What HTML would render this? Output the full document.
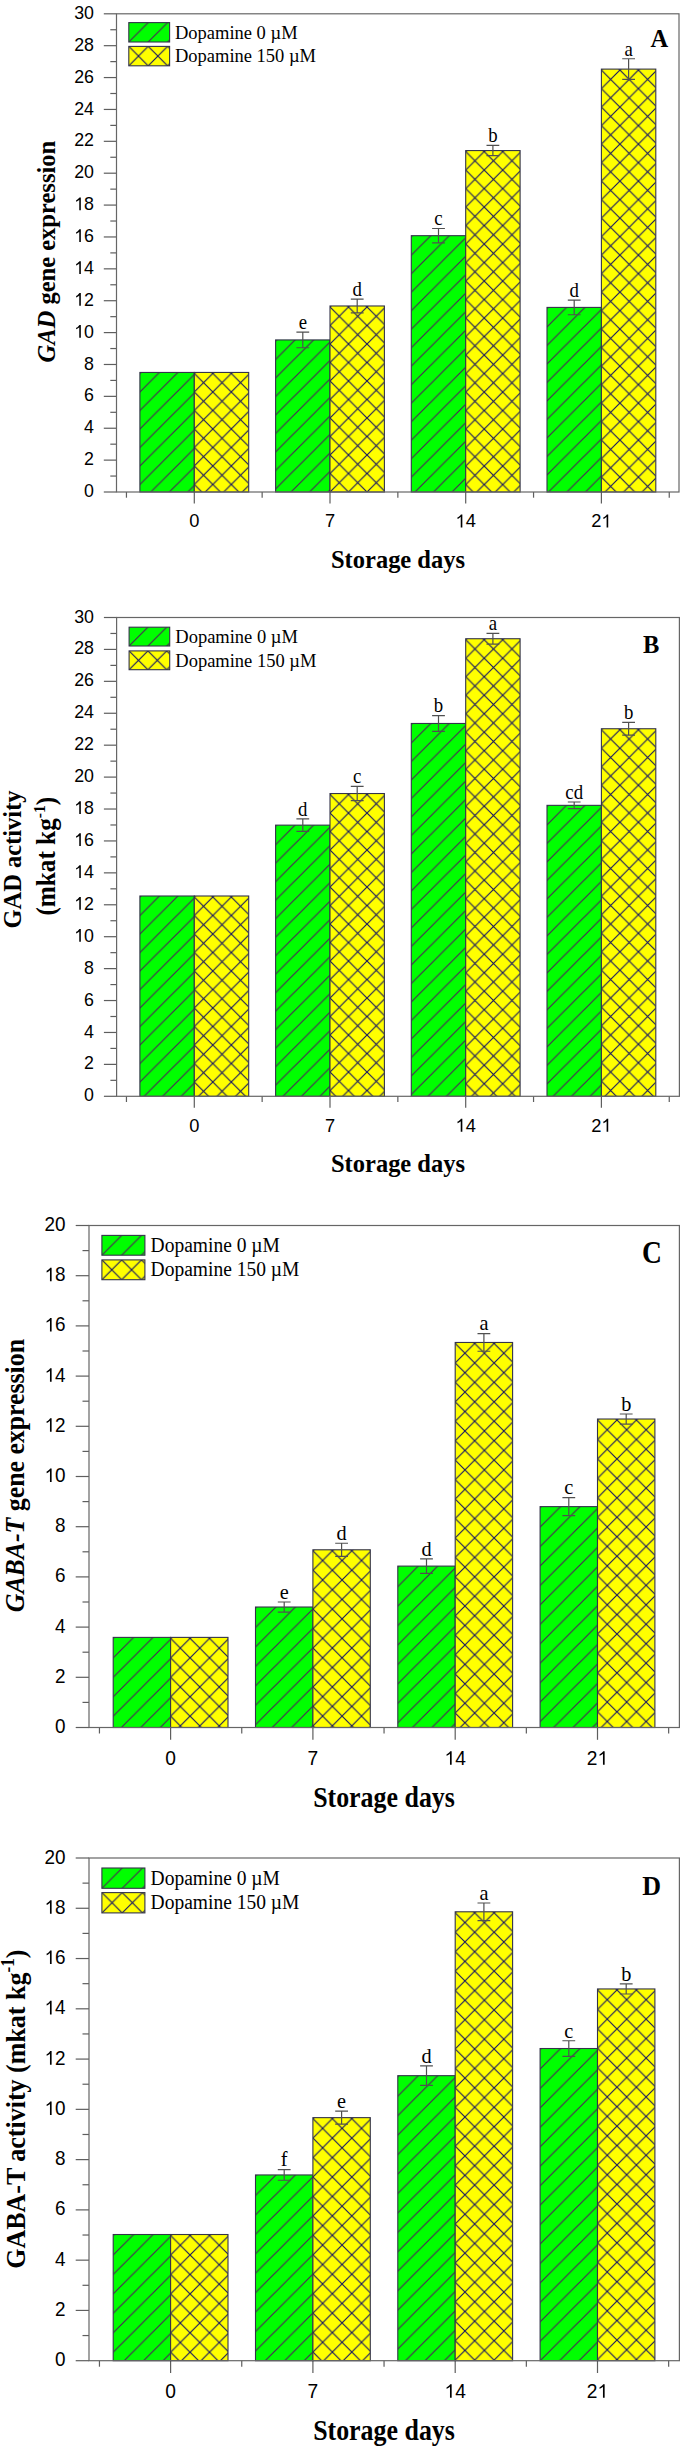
<!DOCTYPE html>
<html><head><meta charset="utf-8"><title>Figure</title>
<style>html,body{margin:0;padding:0;background:#fff;}body{width:685px;height:2450px;overflow:hidden;}svg{display:block;}</style>
</head><body>
<svg width="685" height="2450" viewBox="0 0 685 2450"><defs><pattern id="p1" patternUnits="userSpaceOnUse" width="18.5" height="18.5" x="139.9" y="373.45"><rect width="18.5" height="18.5" fill="#00ff00"/><path d="M-1,19.5 L19.5,-1 M-1,1 L1,-1 M17.5,19.5 L19.5,17.5" stroke="#4c2258" stroke-width="1.15" fill="none"/></pattern><pattern id="p2" patternUnits="userSpaceOnUse" width="18.5" height="18.5" x="194.3" y="373.45"><rect width="18.5" height="18.5" fill="#ffff00"/><path d="M-1,19.5 L19.5,-1 M-1,1 L1,-1 M17.5,19.5 L19.5,17.5 M-1,-1 L19.5,19.5 M-1,17.5 L1,19.5 M17.5,-1 L19.5,1" stroke="#161662" stroke-width="1.15" fill="none"/></pattern><pattern id="p3" patternUnits="userSpaceOnUse" width="18.5" height="18.5" x="275.6" y="340.93"><rect width="18.5" height="18.5" fill="#00ff00"/><path d="M-1,19.5 L19.5,-1 M-1,1 L1,-1 M17.5,19.5 L19.5,17.5" stroke="#4c2258" stroke-width="1.15" fill="none"/></pattern><pattern id="p4" patternUnits="userSpaceOnUse" width="18.5" height="18.5" x="330" y="306.98"><rect width="18.5" height="18.5" fill="#ffff00"/><path d="M-1,19.5 L19.5,-1 M-1,1 L1,-1 M17.5,19.5 L19.5,17.5 M-1,-1 L19.5,19.5 M-1,17.5 L1,19.5 M17.5,-1 L19.5,1" stroke="#161662" stroke-width="1.15" fill="none"/></pattern><pattern id="p5" patternUnits="userSpaceOnUse" width="18.5" height="18.5" x="411.3" y="236.68"><rect width="18.5" height="18.5" fill="#00ff00"/><path d="M-1,19.5 L19.5,-1 M-1,1 L1,-1 M17.5,19.5 L19.5,17.5" stroke="#4c2258" stroke-width="1.15" fill="none"/></pattern><pattern id="p6" patternUnits="userSpaceOnUse" width="18.5" height="18.5" x="465.7" y="151.57"><rect width="18.5" height="18.5" fill="#ffff00"/><path d="M-1,19.5 L19.5,-1 M-1,1 L1,-1 M17.5,19.5 L19.5,17.5 M-1,-1 L19.5,19.5 M-1,17.5 L1,19.5 M17.5,-1 L19.5,1" stroke="#161662" stroke-width="1.15" fill="none"/></pattern><pattern id="p7" patternUnits="userSpaceOnUse" width="18.5" height="18.5" x="547" y="308.41"><rect width="18.5" height="18.5" fill="#00ff00"/><path d="M-1,19.5 L19.5,-1 M-1,1 L1,-1 M17.5,19.5 L19.5,17.5" stroke="#4c2258" stroke-width="1.15" fill="none"/></pattern><pattern id="p8" patternUnits="userSpaceOnUse" width="18.5" height="18.5" x="601.4" y="70.11"><rect width="18.5" height="18.5" fill="#ffff00"/><path d="M-1,19.5 L19.5,-1 M-1,1 L1,-1 M17.5,19.5 L19.5,17.5 M-1,-1 L19.5,19.5 M-1,17.5 L1,19.5 M17.5,-1 L19.5,1" stroke="#161662" stroke-width="1.15" fill="none"/></pattern><pattern id="p9" patternUnits="userSpaceOnUse" width="19.4" height="19.4" x="128.8" y="22.6"><rect width="19.4" height="19.4" fill="#00ff00"/><path d="M-1,20.4 L20.4,-1 M-1,1 L1,-1 M18.4,20.4 L20.4,18.4" stroke="#4c2258" stroke-width="1.15" fill="none"/></pattern><pattern id="p10" patternUnits="userSpaceOnUse" width="19.4" height="19.4" x="128.8" y="46.4"><rect width="19.4" height="19.4" fill="#ffff00"/><path d="M-1,20.4 L20.4,-1 M-1,1 L1,-1 M18.4,20.4 L20.4,18.4 M-1,-1 L20.4,20.4 M-1,18.4 L1,20.4 M18.4,-1 L20.4,1" stroke="#161662" stroke-width="1.15" fill="none"/></pattern><pattern id="p11" patternUnits="userSpaceOnUse" width="18.5" height="18.5" x="139.9" y="897"><rect width="18.5" height="18.5" fill="#00ff00"/><path d="M-1,19.5 L19.5,-1 M-1,1 L1,-1 M17.5,19.5 L19.5,17.5" stroke="#4c2258" stroke-width="1.15" fill="none"/></pattern><pattern id="p12" patternUnits="userSpaceOnUse" width="18.5" height="18.5" x="194.3" y="897"><rect width="18.5" height="18.5" fill="#ffff00"/><path d="M-1,19.5 L19.5,-1 M-1,1 L1,-1 M17.5,19.5 L19.5,17.5 M-1,-1 L19.5,19.5 M-1,17.5 L1,19.5 M17.5,-1 L19.5,1" stroke="#161662" stroke-width="1.15" fill="none"/></pattern><pattern id="p13" patternUnits="userSpaceOnUse" width="18.5" height="18.5" x="275.6" y="826.14"><rect width="18.5" height="18.5" fill="#00ff00"/><path d="M-1,19.5 L19.5,-1 M-1,1 L1,-1 M17.5,19.5 L19.5,17.5" stroke="#4c2258" stroke-width="1.15" fill="none"/></pattern><pattern id="p14" patternUnits="userSpaceOnUse" width="18.5" height="18.5" x="330" y="794.54"><rect width="18.5" height="18.5" fill="#ffff00"/><path d="M-1,19.5 L19.5,-1 M-1,1 L1,-1 M17.5,19.5 L19.5,17.5 M-1,-1 L19.5,19.5 M-1,17.5 L1,19.5 M17.5,-1 L19.5,1" stroke="#161662" stroke-width="1.15" fill="none"/></pattern><pattern id="p15" patternUnits="userSpaceOnUse" width="18.5" height="18.5" x="411.3" y="724.47"><rect width="18.5" height="18.5" fill="#00ff00"/><path d="M-1,19.5 L19.5,-1 M-1,1 L1,-1 M17.5,19.5 L19.5,17.5" stroke="#4c2258" stroke-width="1.15" fill="none"/></pattern><pattern id="p16" patternUnits="userSpaceOnUse" width="18.5" height="18.5" x="465.7" y="639.73"><rect width="18.5" height="18.5" fill="#ffff00"/><path d="M-1,19.5 L19.5,-1 M-1,1 L1,-1 M17.5,19.5 L19.5,17.5 M-1,-1 L19.5,19.5 M-1,17.5 L1,19.5 M17.5,-1 L19.5,1" stroke="#161662" stroke-width="1.15" fill="none"/></pattern><pattern id="p17" patternUnits="userSpaceOnUse" width="18.5" height="18.5" x="547" y="806.35"><rect width="18.5" height="18.5" fill="#00ff00"/><path d="M-1,19.5 L19.5,-1 M-1,1 L1,-1 M17.5,19.5 L19.5,17.5" stroke="#4c2258" stroke-width="1.15" fill="none"/></pattern><pattern id="p18" patternUnits="userSpaceOnUse" width="18.5" height="18.5" x="601.4" y="729.74"><rect width="18.5" height="18.5" fill="#ffff00"/><path d="M-1,19.5 L19.5,-1 M-1,1 L1,-1 M17.5,19.5 L19.5,17.5 M-1,-1 L19.5,19.5 M-1,17.5 L1,19.5 M17.5,-1 L19.5,1" stroke="#161662" stroke-width="1.15" fill="none"/></pattern><pattern id="p19" patternUnits="userSpaceOnUse" width="18.8" height="18.8" x="129.1" y="627.2"><rect width="18.8" height="18.8" fill="#00ff00"/><path d="M-1,19.8 L19.8,-1 M-1,1 L1,-1 M17.8,19.8 L19.8,17.8" stroke="#4c2258" stroke-width="1.15" fill="none"/></pattern><pattern id="p20" patternUnits="userSpaceOnUse" width="18.8" height="18.8" x="129.1" y="650.9"><rect width="18.8" height="18.8" fill="#ffff00"/><path d="M-1,19.8 L19.8,-1 M-1,1 L1,-1 M17.8,19.8 L19.8,17.8 M-1,-1 L19.8,19.8 M-1,17.8 L1,19.8 M17.8,-1 L19.8,1" stroke="#161662" stroke-width="1.15" fill="none"/></pattern><pattern id="p21" patternUnits="userSpaceOnUse" width="19.45" height="19.45" x="113.2" y="1638.39"><rect width="19.45" height="19.45" fill="#00ff00"/><path d="M-1,20.45 L20.45,-1 M-1,1 L1,-1 M18.45,20.45 L20.45,18.45" stroke="#4c2258" stroke-width="1.15" fill="none"/></pattern><pattern id="p22" patternUnits="userSpaceOnUse" width="19.45" height="19.45" x="170.6" y="1638.39"><rect width="19.45" height="19.45" fill="#ffff00"/><path d="M-1,20.45 L20.45,-1 M-1,1 L1,-1 M18.45,20.45 L20.45,18.45 M-1,-1 L20.45,20.45 M-1,18.45 L1,20.45 M18.45,-1 L20.45,1" stroke="#161662" stroke-width="1.15" fill="none"/></pattern><pattern id="p23" patternUnits="userSpaceOnUse" width="19.45" height="19.45" x="255.5" y="1608.02"><rect width="19.45" height="19.45" fill="#00ff00"/><path d="M-1,20.45 L20.45,-1 M-1,1 L1,-1 M18.45,20.45 L20.45,18.45" stroke="#4c2258" stroke-width="1.15" fill="none"/></pattern><pattern id="p24" patternUnits="userSpaceOnUse" width="19.45" height="19.45" x="312.9" y="1550.79"><rect width="19.45" height="19.45" fill="#ffff00"/><path d="M-1,20.45 L20.45,-1 M-1,1 L1,-1 M18.45,20.45 L20.45,18.45 M-1,-1 L20.45,20.45 M-1,18.45 L1,20.45 M18.45,-1 L20.45,1" stroke="#161662" stroke-width="1.15" fill="none"/></pattern><pattern id="p25" patternUnits="userSpaceOnUse" width="19.45" height="19.45" x="397.8" y="1567.11"><rect width="19.45" height="19.45" fill="#00ff00"/><path d="M-1,20.45 L20.45,-1 M-1,1 L1,-1 M18.45,20.45 L20.45,18.45" stroke="#4c2258" stroke-width="1.15" fill="none"/></pattern><pattern id="p26" patternUnits="userSpaceOnUse" width="19.45" height="19.45" x="455.2" y="1343.47"><rect width="19.45" height="19.45" fill="#ffff00"/><path d="M-1,20.45 L20.45,-1 M-1,1 L1,-1 M18.45,20.45 L20.45,18.45 M-1,-1 L20.45,20.45 M-1,18.45 L1,20.45 M18.45,-1 L20.45,1" stroke="#161662" stroke-width="1.15" fill="none"/></pattern><pattern id="p27" patternUnits="userSpaceOnUse" width="19.45" height="19.45" x="540.1" y="1507.62"><rect width="19.45" height="19.45" fill="#00ff00"/><path d="M-1,20.45 L20.45,-1 M-1,1 L1,-1 M18.45,20.45 L20.45,18.45" stroke="#4c2258" stroke-width="1.15" fill="none"/></pattern><pattern id="p28" patternUnits="userSpaceOnUse" width="19.45" height="19.45" x="597.5" y="1420.02"><rect width="19.45" height="19.45" fill="#ffff00"/><path d="M-1,20.45 L20.45,-1 M-1,1 L1,-1 M18.45,20.45 L20.45,18.45 M-1,-1 L20.45,20.45 M-1,18.45 L1,20.45 M18.45,-1 L20.45,1" stroke="#161662" stroke-width="1.15" fill="none"/></pattern><pattern id="p29" patternUnits="userSpaceOnUse" width="19.8" height="19.8" x="101.9" y="1235.4"><rect width="19.8" height="19.8" fill="#00ff00"/><path d="M-1,20.8 L20.8,-1 M-1,1 L1,-1 M18.8,20.8 L20.8,18.8" stroke="#4c2258" stroke-width="1.15" fill="none"/></pattern><pattern id="p30" patternUnits="userSpaceOnUse" width="19.8" height="19.8" x="101.9" y="1259.9"><rect width="19.8" height="19.8" fill="#ffff00"/><path d="M-1,20.8 L20.8,-1 M-1,1 L1,-1 M18.8,20.8 L20.8,18.8 M-1,-1 L20.8,20.8 M-1,18.8 L1,20.8 M18.8,-1 L20.8,1" stroke="#161662" stroke-width="1.15" fill="none"/></pattern><pattern id="p31" patternUnits="userSpaceOnUse" width="19.45" height="19.45" x="113.2" y="2235.52"><rect width="19.45" height="19.45" fill="#00ff00"/><path d="M-1,20.45 L20.45,-1 M-1,1 L1,-1 M18.45,20.45 L20.45,18.45" stroke="#4c2258" stroke-width="1.15" fill="none"/></pattern><pattern id="p32" patternUnits="userSpaceOnUse" width="19.45" height="19.45" x="170.6" y="2235.52"><rect width="19.45" height="19.45" fill="#ffff00"/><path d="M-1,20.45 L20.45,-1 M-1,1 L1,-1 M18.45,20.45 L20.45,18.45 M-1,-1 L20.45,20.45 M-1,18.45 L1,20.45 M18.45,-1 L20.45,1" stroke="#161662" stroke-width="1.15" fill="none"/></pattern><pattern id="p33" patternUnits="userSpaceOnUse" width="19.45" height="19.45" x="255.5" y="2175.95"><rect width="19.45" height="19.45" fill="#00ff00"/><path d="M-1,20.45 L20.45,-1 M-1,1 L1,-1 M18.45,20.45 L20.45,18.45" stroke="#4c2258" stroke-width="1.15" fill="none"/></pattern><pattern id="p34" patternUnits="userSpaceOnUse" width="19.45" height="19.45" x="312.9" y="2118.64"><rect width="19.45" height="19.45" fill="#ffff00"/><path d="M-1,20.45 L20.45,-1 M-1,1 L1,-1 M18.45,20.45 L20.45,18.45 M-1,-1 L20.45,20.45 M-1,18.45 L1,20.45 M18.45,-1 L20.45,1" stroke="#161662" stroke-width="1.15" fill="none"/></pattern><pattern id="p35" patternUnits="userSpaceOnUse" width="19.45" height="19.45" x="397.8" y="2076.67"><rect width="19.45" height="19.45" fill="#00ff00"/><path d="M-1,20.45 L20.45,-1 M-1,1 L1,-1 M18.45,20.45 L20.45,18.45" stroke="#4c2258" stroke-width="1.15" fill="none"/></pattern><pattern id="p36" patternUnits="userSpaceOnUse" width="19.45" height="19.45" x="455.2" y="1912.79"><rect width="19.45" height="19.45" fill="#ffff00"/><path d="M-1,20.45 L20.45,-1 M-1,1 L1,-1 M18.45,20.45 L20.45,18.45 M-1,-1 L20.45,20.45 M-1,18.45 L1,20.45 M18.45,-1 L20.45,1" stroke="#161662" stroke-width="1.15" fill="none"/></pattern><pattern id="p37" patternUnits="userSpaceOnUse" width="19.45" height="19.45" x="540.1" y="2049.52"><rect width="19.45" height="19.45" fill="#00ff00"/><path d="M-1,20.45 L20.45,-1 M-1,1 L1,-1 M18.45,20.45 L20.45,18.45" stroke="#4c2258" stroke-width="1.15" fill="none"/></pattern><pattern id="p38" patternUnits="userSpaceOnUse" width="19.45" height="19.45" x="597.5" y="1989.95"><rect width="19.45" height="19.45" fill="#ffff00"/><path d="M-1,20.45 L20.45,-1 M-1,1 L1,-1 M18.45,20.45 L20.45,18.45 M-1,-1 L20.45,20.45 M-1,18.45 L1,20.45 M18.45,-1 L20.45,1" stroke="#161662" stroke-width="1.15" fill="none"/></pattern><pattern id="p39" patternUnits="userSpaceOnUse" width="20.3" height="20.3" x="101.9" y="1868"><rect width="20.3" height="20.3" fill="#00ff00"/><path d="M-1,21.3 L21.3,-1 M-1,1 L1,-1 M19.3,21.3 L21.3,19.3" stroke="#4c2258" stroke-width="1.15" fill="none"/></pattern><pattern id="p40" patternUnits="userSpaceOnUse" width="20.3" height="20.3" x="101.9" y="1892.6"><rect width="20.3" height="20.3" fill="#ffff00"/><path d="M-1,21.3 L21.3,-1 M-1,1 L1,-1 M19.3,21.3 L21.3,19.3 M-1,-1 L21.3,21.3 M-1,19.3 L1,21.3 M19.3,-1 L21.3,1" stroke="#161662" stroke-width="1.15" fill="none"/></pattern></defs><rect width="685" height="2450" fill="#fff"/><g><line x1="103.8" y1="492" x2="116.5" y2="492" stroke="#5e5e5e" stroke-width="1.2"/><g transform="translate(84.1,497.07) scale(1,1.04)"><text x="0" y="0" font-family='"Liberation Sans", sans-serif' font-size="17.8">0</text></g><line x1="110.3" y1="476.06" x2="116.5" y2="476.06" stroke="#5e5e5e" stroke-width="1.2"/><line x1="103.8" y1="460.12" x2="116.5" y2="460.12" stroke="#5e5e5e" stroke-width="1.2"/><g transform="translate(84.1,465.19) scale(1,1.04)"><text x="0" y="0" font-family='"Liberation Sans", sans-serif' font-size="17.8">2</text></g><line x1="110.3" y1="444.18" x2="116.5" y2="444.18" stroke="#5e5e5e" stroke-width="1.2"/><line x1="103.8" y1="428.24" x2="116.5" y2="428.24" stroke="#5e5e5e" stroke-width="1.2"/><g transform="translate(84.1,433.31) scale(1,1.04)"><text x="0" y="0" font-family='"Liberation Sans", sans-serif' font-size="17.8">4</text></g><line x1="110.3" y1="412.3" x2="116.5" y2="412.3" stroke="#5e5e5e" stroke-width="1.2"/><line x1="103.8" y1="396.36" x2="116.5" y2="396.36" stroke="#5e5e5e" stroke-width="1.2"/><g transform="translate(84.1,401.43) scale(1,1.04)"><text x="0" y="0" font-family='"Liberation Sans", sans-serif' font-size="17.8">6</text></g><line x1="110.3" y1="380.42" x2="116.5" y2="380.42" stroke="#5e5e5e" stroke-width="1.2"/><line x1="103.8" y1="364.48" x2="116.5" y2="364.48" stroke="#5e5e5e" stroke-width="1.2"/><g transform="translate(84.1,369.55) scale(1,1.04)"><text x="0" y="0" font-family='"Liberation Sans", sans-serif' font-size="17.8">8</text></g><line x1="110.3" y1="348.54" x2="116.5" y2="348.54" stroke="#5e5e5e" stroke-width="1.2"/><line x1="103.8" y1="332.6" x2="116.5" y2="332.6" stroke="#5e5e5e" stroke-width="1.2"/><g transform="translate(74.2,337.67) scale(1,1.04)"><text x="0" y="0" font-family='"Liberation Sans", sans-serif' font-size="17.8"> 0</text><path d="M763,0 L583,0 L583,1147 Q500,1067 390,1003 Q290,945 223,921 L223,1095 Q330,1145 430,1222 Q540,1310 607,1409 L763,1409 Z" transform="translate(0,0) scale(0.00869,-0.00869)"/></g><line x1="110.3" y1="316.66" x2="116.5" y2="316.66" stroke="#5e5e5e" stroke-width="1.2"/><line x1="103.8" y1="300.72" x2="116.5" y2="300.72" stroke="#5e5e5e" stroke-width="1.2"/><g transform="translate(74.2,305.79) scale(1,1.04)"><text x="0" y="0" font-family='"Liberation Sans", sans-serif' font-size="17.8"> 2</text><path d="M763,0 L583,0 L583,1147 Q500,1067 390,1003 Q290,945 223,921 L223,1095 Q330,1145 430,1222 Q540,1310 607,1409 L763,1409 Z" transform="translate(0,0) scale(0.00869,-0.00869)"/></g><line x1="110.3" y1="284.78" x2="116.5" y2="284.78" stroke="#5e5e5e" stroke-width="1.2"/><line x1="103.8" y1="268.84" x2="116.5" y2="268.84" stroke="#5e5e5e" stroke-width="1.2"/><g transform="translate(74.2,273.91) scale(1,1.04)"><text x="0" y="0" font-family='"Liberation Sans", sans-serif' font-size="17.8"> 4</text><path d="M763,0 L583,0 L583,1147 Q500,1067 390,1003 Q290,945 223,921 L223,1095 Q330,1145 430,1222 Q540,1310 607,1409 L763,1409 Z" transform="translate(0,0) scale(0.00869,-0.00869)"/></g><line x1="110.3" y1="252.9" x2="116.5" y2="252.9" stroke="#5e5e5e" stroke-width="1.2"/><line x1="103.8" y1="236.96" x2="116.5" y2="236.96" stroke="#5e5e5e" stroke-width="1.2"/><g transform="translate(74.2,242.03) scale(1,1.04)"><text x="0" y="0" font-family='"Liberation Sans", sans-serif' font-size="17.8"> 6</text><path d="M763,0 L583,0 L583,1147 Q500,1067 390,1003 Q290,945 223,921 L223,1095 Q330,1145 430,1222 Q540,1310 607,1409 L763,1409 Z" transform="translate(0,0) scale(0.00869,-0.00869)"/></g><line x1="110.3" y1="221.02" x2="116.5" y2="221.02" stroke="#5e5e5e" stroke-width="1.2"/><line x1="103.8" y1="205.08" x2="116.5" y2="205.08" stroke="#5e5e5e" stroke-width="1.2"/><g transform="translate(74.2,210.15) scale(1,1.04)"><text x="0" y="0" font-family='"Liberation Sans", sans-serif' font-size="17.8"> 8</text><path d="M763,0 L583,0 L583,1147 Q500,1067 390,1003 Q290,945 223,921 L223,1095 Q330,1145 430,1222 Q540,1310 607,1409 L763,1409 Z" transform="translate(0,0) scale(0.00869,-0.00869)"/></g><line x1="110.3" y1="189.14" x2="116.5" y2="189.14" stroke="#5e5e5e" stroke-width="1.2"/><line x1="103.8" y1="173.2" x2="116.5" y2="173.2" stroke="#5e5e5e" stroke-width="1.2"/><g transform="translate(74.2,178.27) scale(1,1.04)"><text x="0" y="0" font-family='"Liberation Sans", sans-serif' font-size="17.8">20</text></g><line x1="110.3" y1="157.26" x2="116.5" y2="157.26" stroke="#5e5e5e" stroke-width="1.2"/><line x1="103.8" y1="141.32" x2="116.5" y2="141.32" stroke="#5e5e5e" stroke-width="1.2"/><g transform="translate(74.2,146.39) scale(1,1.04)"><text x="0" y="0" font-family='"Liberation Sans", sans-serif' font-size="17.8">22</text></g><line x1="110.3" y1="125.38" x2="116.5" y2="125.38" stroke="#5e5e5e" stroke-width="1.2"/><line x1="103.8" y1="109.44" x2="116.5" y2="109.44" stroke="#5e5e5e" stroke-width="1.2"/><g transform="translate(74.2,114.51) scale(1,1.04)"><text x="0" y="0" font-family='"Liberation Sans", sans-serif' font-size="17.8">24</text></g><line x1="110.3" y1="93.5" x2="116.5" y2="93.5" stroke="#5e5e5e" stroke-width="1.2"/><line x1="103.8" y1="77.56" x2="116.5" y2="77.56" stroke="#5e5e5e" stroke-width="1.2"/><g transform="translate(74.2,82.63) scale(1,1.04)"><text x="0" y="0" font-family='"Liberation Sans", sans-serif' font-size="17.8">26</text></g><line x1="110.3" y1="61.62" x2="116.5" y2="61.62" stroke="#5e5e5e" stroke-width="1.2"/><line x1="103.8" y1="45.68" x2="116.5" y2="45.68" stroke="#5e5e5e" stroke-width="1.2"/><g transform="translate(74.2,50.75) scale(1,1.04)"><text x="0" y="0" font-family='"Liberation Sans", sans-serif' font-size="17.8">28</text></g><line x1="110.3" y1="29.74" x2="116.5" y2="29.74" stroke="#5e5e5e" stroke-width="1.2"/><line x1="103.8" y1="13.8" x2="116.5" y2="13.8" stroke="#5e5e5e" stroke-width="1.2"/><g transform="translate(74.2,18.87) scale(1,1.04)"><text x="0" y="0" font-family='"Liberation Sans", sans-serif' font-size="17.8">30</text></g><line x1="194.3" y1="492" x2="194.3" y2="503.5" stroke="#5e5e5e" stroke-width="1.2"/><g transform="translate(189.21,527.4) scale(1,1.03)"><text x="0" y="0" font-family='"Liberation Sans", sans-serif' font-size="18.3">0</text></g><line x1="330" y1="492" x2="330" y2="503.5" stroke="#5e5e5e" stroke-width="1.2"/><g transform="translate(324.91,527.4) scale(1,1.03)"><text x="0" y="0" font-family='"Liberation Sans", sans-serif' font-size="18.3">7</text></g><line x1="465.7" y1="492" x2="465.7" y2="503.5" stroke="#5e5e5e" stroke-width="1.2"/><g transform="translate(455.52,527.4) scale(1,1.03)"><text x="0" y="0" font-family='"Liberation Sans", sans-serif' font-size="18.3"> 4</text><path d="M763,0 L583,0 L583,1147 Q500,1067 390,1003 Q290,945 223,921 L223,1095 Q330,1145 430,1222 Q540,1310 607,1409 L763,1409 Z" transform="translate(0,0) scale(0.00894,-0.00894)"/></g><line x1="601.4" y1="492" x2="601.4" y2="503.5" stroke="#5e5e5e" stroke-width="1.2"/><g transform="translate(591.22,527.4) scale(1,1.03)"><text x="0" y="0" font-family='"Liberation Sans", sans-serif' font-size="18.3">2 </text><path d="M763,0 L583,0 L583,1147 Q500,1067 390,1003 Q290,945 223,921 L223,1095 Q330,1145 430,1222 Q540,1310 607,1409 L763,1409 Z" transform="translate(10.18,0) scale(0.00894,-0.00894)"/></g><line x1="126.45" y1="492" x2="126.45" y2="497.7" stroke="#5e5e5e" stroke-width="1.2"/><line x1="262.15" y1="492" x2="262.15" y2="497.7" stroke="#5e5e5e" stroke-width="1.2"/><line x1="397.85" y1="492" x2="397.85" y2="497.7" stroke="#5e5e5e" stroke-width="1.2"/><line x1="533.55" y1="492" x2="533.55" y2="497.7" stroke="#5e5e5e" stroke-width="1.2"/><line x1="669.25" y1="492" x2="669.25" y2="497.7" stroke="#5e5e5e" stroke-width="1.2"/><rect x="139.9" y="372.45" width="54.4" height="119.55" fill="url(#p1)" stroke="#34344a" stroke-width="1.1"/><rect x="194.3" y="372.45" width="54.4" height="119.55" fill="url(#p2)" stroke="#34344a" stroke-width="1.1"/><rect x="275.6" y="339.93" width="54.4" height="152.07" fill="url(#p3)" stroke="#34344a" stroke-width="1.1"/><path d="M302.8,332.12 V347.74 M296.4,332.12 H309.2 M296.4,347.74 H309.2" stroke="#505050" stroke-width="1.2" fill="none"/><text transform="translate(302.8,328.92) scale(1,1.06)" font-family='"Liberation Serif", serif' font-size="18.8" text-anchor="middle">e</text><rect x="330" y="305.98" width="54.4" height="186.02" fill="url(#p4)" stroke="#34344a" stroke-width="1.1"/><path d="M357.2,299.13 V312.83 M350.8,299.13 H363.6 M350.8,312.83 H363.6" stroke="#505050" stroke-width="1.2" fill="none"/><text transform="translate(357.2,295.93) scale(1,1.06)" font-family='"Liberation Serif", serif' font-size="18.8" text-anchor="middle">d</text><rect x="411.3" y="235.68" width="54.4" height="256.32" fill="url(#p5)" stroke="#34344a" stroke-width="1.1"/><path d="M438.5,228.51 V242.86 M432.1,228.51 H444.9 M432.1,242.86 H444.9" stroke="#505050" stroke-width="1.2" fill="none"/><text transform="translate(438.5,225.31) scale(1,1.06)" font-family='"Liberation Serif", serif' font-size="18.8" text-anchor="middle">c</text><rect x="465.7" y="150.57" width="54.4" height="341.43" fill="url(#p6)" stroke="#34344a" stroke-width="1.1"/><path d="M492.9,145.46 V155.67 M486.5,145.46 H499.3 M486.5,155.67 H499.3" stroke="#505050" stroke-width="1.2" fill="none"/><text transform="translate(492.9,142.26) scale(1,1.06)" font-family='"Liberation Serif", serif' font-size="18.8" text-anchor="middle">b</text><rect x="547" y="307.41" width="54.4" height="184.59" fill="url(#p7)" stroke="#34344a" stroke-width="1.1"/><path d="M574.2,300.08 V314.75 M567.8,300.08 H580.6 M567.8,314.75 H580.6" stroke="#505050" stroke-width="1.2" fill="none"/><text transform="translate(574.2,296.88) scale(1,1.06)" font-family='"Liberation Serif", serif' font-size="18.8" text-anchor="middle">d</text><rect x="601.4" y="69.11" width="54.4" height="422.89" fill="url(#p8)" stroke="#34344a" stroke-width="1.1"/><path d="M628.6,58.75 V79.47 M622.2,58.75 H635 M622.2,79.47 H635" stroke="#505050" stroke-width="1.2" fill="none"/><text transform="translate(628.6,55.55) scale(1,1.06)" font-family='"Liberation Serif", serif' font-size="18.8" text-anchor="middle">a</text><rect x="116.5" y="13.8" width="562.5" height="478.2" fill="none" stroke="#666666" stroke-width="1.2"/><rect x="128.8" y="22.6" width="40.8" height="19.4" fill="url(#p9)" stroke="#34344a" stroke-width="1.1"/><rect x="128.8" y="46.4" width="40.8" height="19.4" fill="url(#p10)" stroke="#34344a" stroke-width="1.1"/><text transform="translate(175,38.8) scale(1,1.05)" font-family='"Liberation Serif", serif' font-size="18.5">Dopamine 0 µM</text><text transform="translate(175,62.4) scale(1,1.05)" font-family='"Liberation Serif", serif' font-size="18.5">Dopamine 150 µM</text><text transform="translate(650.6,46.9) scale(1,1.06)" font-family='"Liberation Serif", serif' font-size="24.5" font-weight="bold">A</text><text transform="translate(398,567.5) scale(1,1.05)" font-family='"Liberation Serif", serif' font-size="24.5" font-weight="bold" text-anchor="middle">Storage days</text><text transform="translate(54.8,251.7) rotate(-90) scale(1,1.06)" font-family='"Liberation Serif", serif' font-size="24.55" font-weight="bold" text-anchor="middle"><tspan font-style="italic">GAD</tspan> gene expression</text></g>
<g><line x1="103.9" y1="1096.3" x2="116.6" y2="1096.3" stroke="#5e5e5e" stroke-width="1.2"/><g transform="translate(84.1,1101.37) scale(1,1.04)"><text x="0" y="0" font-family='"Liberation Sans", sans-serif' font-size="17.8">0</text></g><line x1="110.4" y1="1080.34" x2="116.6" y2="1080.34" stroke="#5e5e5e" stroke-width="1.2"/><line x1="103.9" y1="1064.38" x2="116.6" y2="1064.38" stroke="#5e5e5e" stroke-width="1.2"/><g transform="translate(84.1,1069.45) scale(1,1.04)"><text x="0" y="0" font-family='"Liberation Sans", sans-serif' font-size="17.8">2</text></g><line x1="110.4" y1="1048.42" x2="116.6" y2="1048.42" stroke="#5e5e5e" stroke-width="1.2"/><line x1="103.9" y1="1032.46" x2="116.6" y2="1032.46" stroke="#5e5e5e" stroke-width="1.2"/><g transform="translate(84.1,1037.53) scale(1,1.04)"><text x="0" y="0" font-family='"Liberation Sans", sans-serif' font-size="17.8">4</text></g><line x1="110.4" y1="1016.5" x2="116.6" y2="1016.5" stroke="#5e5e5e" stroke-width="1.2"/><line x1="103.9" y1="1000.54" x2="116.6" y2="1000.54" stroke="#5e5e5e" stroke-width="1.2"/><g transform="translate(84.1,1005.61) scale(1,1.04)"><text x="0" y="0" font-family='"Liberation Sans", sans-serif' font-size="17.8">6</text></g><line x1="110.4" y1="984.58" x2="116.6" y2="984.58" stroke="#5e5e5e" stroke-width="1.2"/><line x1="103.9" y1="968.62" x2="116.6" y2="968.62" stroke="#5e5e5e" stroke-width="1.2"/><g transform="translate(84.1,973.69) scale(1,1.04)"><text x="0" y="0" font-family='"Liberation Sans", sans-serif' font-size="17.8">8</text></g><line x1="110.4" y1="952.66" x2="116.6" y2="952.66" stroke="#5e5e5e" stroke-width="1.2"/><line x1="103.9" y1="936.7" x2="116.6" y2="936.7" stroke="#5e5e5e" stroke-width="1.2"/><g transform="translate(74.2,941.77) scale(1,1.04)"><text x="0" y="0" font-family='"Liberation Sans", sans-serif' font-size="17.8"> 0</text><path d="M763,0 L583,0 L583,1147 Q500,1067 390,1003 Q290,945 223,921 L223,1095 Q330,1145 430,1222 Q540,1310 607,1409 L763,1409 Z" transform="translate(0,0) scale(0.00869,-0.00869)"/></g><line x1="110.4" y1="920.74" x2="116.6" y2="920.74" stroke="#5e5e5e" stroke-width="1.2"/><line x1="103.9" y1="904.78" x2="116.6" y2="904.78" stroke="#5e5e5e" stroke-width="1.2"/><g transform="translate(74.2,909.85) scale(1,1.04)"><text x="0" y="0" font-family='"Liberation Sans", sans-serif' font-size="17.8"> 2</text><path d="M763,0 L583,0 L583,1147 Q500,1067 390,1003 Q290,945 223,921 L223,1095 Q330,1145 430,1222 Q540,1310 607,1409 L763,1409 Z" transform="translate(0,0) scale(0.00869,-0.00869)"/></g><line x1="110.4" y1="888.82" x2="116.6" y2="888.82" stroke="#5e5e5e" stroke-width="1.2"/><line x1="103.9" y1="872.86" x2="116.6" y2="872.86" stroke="#5e5e5e" stroke-width="1.2"/><g transform="translate(74.2,877.93) scale(1,1.04)"><text x="0" y="0" font-family='"Liberation Sans", sans-serif' font-size="17.8"> 4</text><path d="M763,0 L583,0 L583,1147 Q500,1067 390,1003 Q290,945 223,921 L223,1095 Q330,1145 430,1222 Q540,1310 607,1409 L763,1409 Z" transform="translate(0,0) scale(0.00869,-0.00869)"/></g><line x1="110.4" y1="856.9" x2="116.6" y2="856.9" stroke="#5e5e5e" stroke-width="1.2"/><line x1="103.9" y1="840.94" x2="116.6" y2="840.94" stroke="#5e5e5e" stroke-width="1.2"/><g transform="translate(74.2,846.01) scale(1,1.04)"><text x="0" y="0" font-family='"Liberation Sans", sans-serif' font-size="17.8"> 6</text><path d="M763,0 L583,0 L583,1147 Q500,1067 390,1003 Q290,945 223,921 L223,1095 Q330,1145 430,1222 Q540,1310 607,1409 L763,1409 Z" transform="translate(0,0) scale(0.00869,-0.00869)"/></g><line x1="110.4" y1="824.98" x2="116.6" y2="824.98" stroke="#5e5e5e" stroke-width="1.2"/><line x1="103.9" y1="809.02" x2="116.6" y2="809.02" stroke="#5e5e5e" stroke-width="1.2"/><g transform="translate(74.2,814.09) scale(1,1.04)"><text x="0" y="0" font-family='"Liberation Sans", sans-serif' font-size="17.8"> 8</text><path d="M763,0 L583,0 L583,1147 Q500,1067 390,1003 Q290,945 223,921 L223,1095 Q330,1145 430,1222 Q540,1310 607,1409 L763,1409 Z" transform="translate(0,0) scale(0.00869,-0.00869)"/></g><line x1="110.4" y1="793.06" x2="116.6" y2="793.06" stroke="#5e5e5e" stroke-width="1.2"/><line x1="103.9" y1="777.1" x2="116.6" y2="777.1" stroke="#5e5e5e" stroke-width="1.2"/><g transform="translate(74.2,782.17) scale(1,1.04)"><text x="0" y="0" font-family='"Liberation Sans", sans-serif' font-size="17.8">20</text></g><line x1="110.4" y1="761.14" x2="116.6" y2="761.14" stroke="#5e5e5e" stroke-width="1.2"/><line x1="103.9" y1="745.18" x2="116.6" y2="745.18" stroke="#5e5e5e" stroke-width="1.2"/><g transform="translate(74.2,750.25) scale(1,1.04)"><text x="0" y="0" font-family='"Liberation Sans", sans-serif' font-size="17.8">22</text></g><line x1="110.4" y1="729.22" x2="116.6" y2="729.22" stroke="#5e5e5e" stroke-width="1.2"/><line x1="103.9" y1="713.26" x2="116.6" y2="713.26" stroke="#5e5e5e" stroke-width="1.2"/><g transform="translate(74.2,718.33) scale(1,1.04)"><text x="0" y="0" font-family='"Liberation Sans", sans-serif' font-size="17.8">24</text></g><line x1="110.4" y1="697.3" x2="116.6" y2="697.3" stroke="#5e5e5e" stroke-width="1.2"/><line x1="103.9" y1="681.34" x2="116.6" y2="681.34" stroke="#5e5e5e" stroke-width="1.2"/><g transform="translate(74.2,686.41) scale(1,1.04)"><text x="0" y="0" font-family='"Liberation Sans", sans-serif' font-size="17.8">26</text></g><line x1="110.4" y1="665.38" x2="116.6" y2="665.38" stroke="#5e5e5e" stroke-width="1.2"/><line x1="103.9" y1="649.42" x2="116.6" y2="649.42" stroke="#5e5e5e" stroke-width="1.2"/><g transform="translate(74.2,654.49) scale(1,1.04)"><text x="0" y="0" font-family='"Liberation Sans", sans-serif' font-size="17.8">28</text></g><line x1="110.4" y1="633.46" x2="116.6" y2="633.46" stroke="#5e5e5e" stroke-width="1.2"/><line x1="103.9" y1="617.5" x2="116.6" y2="617.5" stroke="#5e5e5e" stroke-width="1.2"/><g transform="translate(74.2,622.57) scale(1,1.04)"><text x="0" y="0" font-family='"Liberation Sans", sans-serif' font-size="17.8">30</text></g><line x1="194.3" y1="1096.3" x2="194.3" y2="1107.8" stroke="#5e5e5e" stroke-width="1.2"/><g transform="translate(189.21,1131.7) scale(1,1.03)"><text x="0" y="0" font-family='"Liberation Sans", sans-serif' font-size="18.3">0</text></g><line x1="330" y1="1096.3" x2="330" y2="1107.8" stroke="#5e5e5e" stroke-width="1.2"/><g transform="translate(324.91,1131.7) scale(1,1.03)"><text x="0" y="0" font-family='"Liberation Sans", sans-serif' font-size="18.3">7</text></g><line x1="465.7" y1="1096.3" x2="465.7" y2="1107.8" stroke="#5e5e5e" stroke-width="1.2"/><g transform="translate(455.52,1131.7) scale(1,1.03)"><text x="0" y="0" font-family='"Liberation Sans", sans-serif' font-size="18.3"> 4</text><path d="M763,0 L583,0 L583,1147 Q500,1067 390,1003 Q290,945 223,921 L223,1095 Q330,1145 430,1222 Q540,1310 607,1409 L763,1409 Z" transform="translate(0,0) scale(0.00894,-0.00894)"/></g><line x1="601.4" y1="1096.3" x2="601.4" y2="1107.8" stroke="#5e5e5e" stroke-width="1.2"/><g transform="translate(591.22,1131.7) scale(1,1.03)"><text x="0" y="0" font-family='"Liberation Sans", sans-serif' font-size="18.3">2 </text><path d="M763,0 L583,0 L583,1147 Q500,1067 390,1003 Q290,945 223,921 L223,1095 Q330,1145 430,1222 Q540,1310 607,1409 L763,1409 Z" transform="translate(10.18,0) scale(0.00894,-0.00894)"/></g><line x1="126.45" y1="1096.3" x2="126.45" y2="1102" stroke="#5e5e5e" stroke-width="1.2"/><line x1="262.15" y1="1096.3" x2="262.15" y2="1102" stroke="#5e5e5e" stroke-width="1.2"/><line x1="397.85" y1="1096.3" x2="397.85" y2="1102" stroke="#5e5e5e" stroke-width="1.2"/><line x1="533.55" y1="1096.3" x2="533.55" y2="1102" stroke="#5e5e5e" stroke-width="1.2"/><line x1="669.25" y1="1096.3" x2="669.25" y2="1102" stroke="#5e5e5e" stroke-width="1.2"/><rect x="139.9" y="896" width="54.4" height="200.3" fill="url(#p11)" stroke="#34344a" stroke-width="1.1"/><rect x="194.3" y="896" width="54.4" height="200.3" fill="url(#p12)" stroke="#34344a" stroke-width="1.1"/><rect x="275.6" y="825.14" width="54.4" height="271.16" fill="url(#p13)" stroke="#34344a" stroke-width="1.1"/><path d="M302.8,818.92 V831.36 M296.4,818.92 H309.2 M296.4,831.36 H309.2" stroke="#505050" stroke-width="1.2" fill="none"/><text transform="translate(302.8,815.72) scale(1,1.06)" font-family='"Liberation Serif", serif' font-size="18.8" text-anchor="middle">d</text><rect x="330" y="793.54" width="54.4" height="302.76" fill="url(#p14)" stroke="#34344a" stroke-width="1.1"/><path d="M357.2,786.36 V800.72 M350.8,786.36 H363.6 M350.8,800.72 H363.6" stroke="#505050" stroke-width="1.2" fill="none"/><text transform="translate(357.2,783.16) scale(1,1.06)" font-family='"Liberation Serif", serif' font-size="18.8" text-anchor="middle">c</text><rect x="411.3" y="723.47" width="54.4" height="372.83" fill="url(#p15)" stroke="#34344a" stroke-width="1.1"/><path d="M438.5,715.65 V731.29 M432.1,715.65 H444.9 M432.1,731.29 H444.9" stroke="#505050" stroke-width="1.2" fill="none"/><text transform="translate(438.5,712.45) scale(1,1.06)" font-family='"Liberation Serif", serif' font-size="18.8" text-anchor="middle">b</text><rect x="465.7" y="638.73" width="54.4" height="457.57" fill="url(#p16)" stroke="#34344a" stroke-width="1.1"/><path d="M492.9,633.3 V644.15 M486.5,633.3 H499.3 M486.5,644.15 H499.3" stroke="#505050" stroke-width="1.2" fill="none"/><text transform="translate(492.9,630.1) scale(1,1.06)" font-family='"Liberation Serif", serif' font-size="18.8" text-anchor="middle">a</text><rect x="547" y="805.35" width="54.4" height="290.95" fill="url(#p17)" stroke="#34344a" stroke-width="1.1"/><path d="M574.2,802 V808.7 M567.8,802 H580.6 M567.8,808.7 H580.6" stroke="#505050" stroke-width="1.2" fill="none"/><text transform="translate(574.2,798.8) scale(1,1.06)" font-family='"Liberation Serif", serif' font-size="18.8" text-anchor="middle">cd</text><rect x="601.4" y="728.74" width="54.4" height="367.56" fill="url(#p18)" stroke="#34344a" stroke-width="1.1"/><path d="M628.6,722.36 V735.13 M622.2,722.36 H635 M622.2,735.13 H635" stroke="#505050" stroke-width="1.2" fill="none"/><text transform="translate(628.6,719.16) scale(1,1.06)" font-family='"Liberation Serif", serif' font-size="18.8" text-anchor="middle">b</text><rect x="116.6" y="617.5" width="562.8" height="478.8" fill="none" stroke="#666666" stroke-width="1.2"/><rect x="129.1" y="627.2" width="40.6" height="18.8" fill="url(#p19)" stroke="#34344a" stroke-width="1.1"/><rect x="129.1" y="650.9" width="40.6" height="18.8" fill="url(#p20)" stroke="#34344a" stroke-width="1.1"/><text transform="translate(175.3,643) scale(1,1.05)" font-family='"Liberation Serif", serif' font-size="18.5">Dopamine 0 µM</text><text transform="translate(175.3,666.7) scale(1,1.05)" font-family='"Liberation Serif", serif' font-size="18.5">Dopamine 150 µM</text><text transform="translate(643.1,652.8) scale(1,1.06)" font-family='"Liberation Serif", serif' font-size="24.5" font-weight="bold">B</text><text transform="translate(398,1171.6) scale(1,1.05)" font-family='"Liberation Serif", serif' font-size="24.5" font-weight="bold" text-anchor="middle">Storage days</text><text transform="translate(20.9,859.5) rotate(-90) scale(1,1.06)" font-family='"Liberation Serif", serif' font-size="24.5" font-weight="bold" text-anchor="middle">GAD activity</text><text transform="translate(54.8,856.2) rotate(-90) scale(1,1.06)" font-family='"Liberation Serif", serif' font-size="25.2" font-weight="bold" text-anchor="middle">(mkat kg<tspan font-size="15.62" dy="-9.60">-1</tspan><tspan dy="9.60">)</tspan></text></g>
<g><line x1="75.7" y1="1727.5" x2="89" y2="1727.5" stroke="#5e5e5e" stroke-width="1.2"/><g transform="translate(55.09,1733.07) scale(1,1.04)"><text x="0" y="0" font-family='"Liberation Sans", sans-serif' font-size="18.9">0</text></g><line x1="82.5" y1="1702.4" x2="89" y2="1702.4" stroke="#5e5e5e" stroke-width="1.2"/><line x1="75.7" y1="1677.3" x2="89" y2="1677.3" stroke="#5e5e5e" stroke-width="1.2"/><g transform="translate(55.09,1682.87) scale(1,1.04)"><text x="0" y="0" font-family='"Liberation Sans", sans-serif' font-size="18.9">2</text></g><line x1="82.5" y1="1652.2" x2="89" y2="1652.2" stroke="#5e5e5e" stroke-width="1.2"/><line x1="75.7" y1="1627.1" x2="89" y2="1627.1" stroke="#5e5e5e" stroke-width="1.2"/><g transform="translate(55.09,1632.67) scale(1,1.04)"><text x="0" y="0" font-family='"Liberation Sans", sans-serif' font-size="18.9">4</text></g><line x1="82.5" y1="1602" x2="89" y2="1602" stroke="#5e5e5e" stroke-width="1.2"/><line x1="75.7" y1="1576.9" x2="89" y2="1576.9" stroke="#5e5e5e" stroke-width="1.2"/><g transform="translate(55.09,1582.47) scale(1,1.04)"><text x="0" y="0" font-family='"Liberation Sans", sans-serif' font-size="18.9">6</text></g><line x1="82.5" y1="1551.8" x2="89" y2="1551.8" stroke="#5e5e5e" stroke-width="1.2"/><line x1="75.7" y1="1526.7" x2="89" y2="1526.7" stroke="#5e5e5e" stroke-width="1.2"/><g transform="translate(55.09,1532.27) scale(1,1.04)"><text x="0" y="0" font-family='"Liberation Sans", sans-serif' font-size="18.9">8</text></g><line x1="82.5" y1="1501.6" x2="89" y2="1501.6" stroke="#5e5e5e" stroke-width="1.2"/><line x1="75.7" y1="1476.5" x2="89" y2="1476.5" stroke="#5e5e5e" stroke-width="1.2"/><g transform="translate(44.58,1482.07) scale(1,1.04)"><text x="0" y="0" font-family='"Liberation Sans", sans-serif' font-size="18.9"> 0</text><path d="M763,0 L583,0 L583,1147 Q500,1067 390,1003 Q290,945 223,921 L223,1095 Q330,1145 430,1222 Q540,1310 607,1409 L763,1409 Z" transform="translate(0,0) scale(0.00923,-0.00923)"/></g><line x1="82.5" y1="1451.4" x2="89" y2="1451.4" stroke="#5e5e5e" stroke-width="1.2"/><line x1="75.7" y1="1426.3" x2="89" y2="1426.3" stroke="#5e5e5e" stroke-width="1.2"/><g transform="translate(44.58,1431.87) scale(1,1.04)"><text x="0" y="0" font-family='"Liberation Sans", sans-serif' font-size="18.9"> 2</text><path d="M763,0 L583,0 L583,1147 Q500,1067 390,1003 Q290,945 223,921 L223,1095 Q330,1145 430,1222 Q540,1310 607,1409 L763,1409 Z" transform="translate(0,0) scale(0.00923,-0.00923)"/></g><line x1="82.5" y1="1401.2" x2="89" y2="1401.2" stroke="#5e5e5e" stroke-width="1.2"/><line x1="75.7" y1="1376.1" x2="89" y2="1376.1" stroke="#5e5e5e" stroke-width="1.2"/><g transform="translate(44.58,1381.67) scale(1,1.04)"><text x="0" y="0" font-family='"Liberation Sans", sans-serif' font-size="18.9"> 4</text><path d="M763,0 L583,0 L583,1147 Q500,1067 390,1003 Q290,945 223,921 L223,1095 Q330,1145 430,1222 Q540,1310 607,1409 L763,1409 Z" transform="translate(0,0) scale(0.00923,-0.00923)"/></g><line x1="82.5" y1="1351" x2="89" y2="1351" stroke="#5e5e5e" stroke-width="1.2"/><line x1="75.7" y1="1325.9" x2="89" y2="1325.9" stroke="#5e5e5e" stroke-width="1.2"/><g transform="translate(44.58,1331.47) scale(1,1.04)"><text x="0" y="0" font-family='"Liberation Sans", sans-serif' font-size="18.9"> 6</text><path d="M763,0 L583,0 L583,1147 Q500,1067 390,1003 Q290,945 223,921 L223,1095 Q330,1145 430,1222 Q540,1310 607,1409 L763,1409 Z" transform="translate(0,0) scale(0.00923,-0.00923)"/></g><line x1="82.5" y1="1300.8" x2="89" y2="1300.8" stroke="#5e5e5e" stroke-width="1.2"/><line x1="75.7" y1="1275.7" x2="89" y2="1275.7" stroke="#5e5e5e" stroke-width="1.2"/><g transform="translate(44.58,1281.27) scale(1,1.04)"><text x="0" y="0" font-family='"Liberation Sans", sans-serif' font-size="18.9"> 8</text><path d="M763,0 L583,0 L583,1147 Q500,1067 390,1003 Q290,945 223,921 L223,1095 Q330,1145 430,1222 Q540,1310 607,1409 L763,1409 Z" transform="translate(0,0) scale(0.00923,-0.00923)"/></g><line x1="82.5" y1="1250.6" x2="89" y2="1250.6" stroke="#5e5e5e" stroke-width="1.2"/><line x1="75.7" y1="1225.5" x2="89" y2="1225.5" stroke="#5e5e5e" stroke-width="1.2"/><g transform="translate(44.58,1231.07) scale(1,1.04)"><text x="0" y="0" font-family='"Liberation Sans", sans-serif' font-size="18.9">20</text></g><line x1="170.6" y1="1727.5" x2="170.6" y2="1739.8" stroke="#5e5e5e" stroke-width="1.2"/><g transform="translate(165.26,1764.8) scale(1,1.03)"><text x="0" y="0" font-family='"Liberation Sans", sans-serif' font-size="19.2">0</text></g><line x1="312.9" y1="1727.5" x2="312.9" y2="1739.8" stroke="#5e5e5e" stroke-width="1.2"/><g transform="translate(307.56,1764.8) scale(1,1.03)"><text x="0" y="0" font-family='"Liberation Sans", sans-serif' font-size="19.2">7</text></g><line x1="455.2" y1="1727.5" x2="455.2" y2="1739.8" stroke="#5e5e5e" stroke-width="1.2"/><g transform="translate(444.52,1764.8) scale(1,1.03)"><text x="0" y="0" font-family='"Liberation Sans", sans-serif' font-size="19.2"> 4</text><path d="M763,0 L583,0 L583,1147 Q500,1067 390,1003 Q290,945 223,921 L223,1095 Q330,1145 430,1222 Q540,1310 607,1409 L763,1409 Z" transform="translate(0,0) scale(0.00937,-0.00937)"/></g><line x1="597.5" y1="1727.5" x2="597.5" y2="1739.8" stroke="#5e5e5e" stroke-width="1.2"/><g transform="translate(586.82,1764.8) scale(1,1.03)"><text x="0" y="0" font-family='"Liberation Sans", sans-serif' font-size="19.2">2 </text><path d="M763,0 L583,0 L583,1147 Q500,1067 390,1003 Q290,945 223,921 L223,1095 Q330,1145 430,1222 Q540,1310 607,1409 L763,1409 Z" transform="translate(10.68,0) scale(0.00937,-0.00937)"/></g><line x1="99.45" y1="1727.5" x2="99.45" y2="1733.5" stroke="#5e5e5e" stroke-width="1.2"/><line x1="241.75" y1="1727.5" x2="241.75" y2="1733.5" stroke="#5e5e5e" stroke-width="1.2"/><line x1="384.05" y1="1727.5" x2="384.05" y2="1733.5" stroke="#5e5e5e" stroke-width="1.2"/><line x1="526.35" y1="1727.5" x2="526.35" y2="1733.5" stroke="#5e5e5e" stroke-width="1.2"/><line x1="668.65" y1="1727.5" x2="668.65" y2="1733.5" stroke="#5e5e5e" stroke-width="1.2"/><rect x="113.2" y="1637.39" width="57.4" height="90.11" fill="url(#p21)" stroke="#34344a" stroke-width="1.1"/><rect x="170.6" y="1637.39" width="57.4" height="90.11" fill="url(#p22)" stroke="#34344a" stroke-width="1.1"/><rect x="255.5" y="1607.02" width="57.4" height="120.48" fill="url(#p23)" stroke="#34344a" stroke-width="1.1"/><path d="M284.2,1602 V1612.04 M277.8,1602 H290.6 M277.8,1612.04 H290.6" stroke="#505050" stroke-width="1.2" fill="none"/><text transform="translate(284.2,1598.8) scale(1,1.06)" font-family='"Liberation Serif", serif' font-size="20.3" text-anchor="middle">e</text><rect x="312.9" y="1549.79" width="57.4" height="177.71" fill="url(#p24)" stroke="#34344a" stroke-width="1.1"/><path d="M341.6,1543.27 V1556.32 M335.2,1543.27 H348 M335.2,1556.32 H348" stroke="#505050" stroke-width="1.2" fill="none"/><text transform="translate(341.6,1540.07) scale(1,1.06)" font-family='"Liberation Serif", serif' font-size="20.3" text-anchor="middle">d</text><rect x="397.8" y="1566.11" width="57.4" height="161.39" fill="url(#p25)" stroke="#34344a" stroke-width="1.1"/><path d="M426.5,1558.83 V1573.39 M420.1,1558.83 H432.9 M420.1,1573.39 H432.9" stroke="#505050" stroke-width="1.2" fill="none"/><text transform="translate(426.5,1555.63) scale(1,1.06)" font-family='"Liberation Serif", serif' font-size="20.3" text-anchor="middle">d</text><rect x="455.2" y="1342.47" width="57.4" height="385.03" fill="url(#p26)" stroke="#34344a" stroke-width="1.1"/><path d="M483.9,1333.68 V1351.25 M477.5,1333.68 H490.3 M477.5,1351.25 H490.3" stroke="#505050" stroke-width="1.2" fill="none"/><text transform="translate(483.9,1330.48) scale(1,1.06)" font-family='"Liberation Serif", serif' font-size="20.3" text-anchor="middle">a</text><rect x="540.1" y="1506.62" width="57.4" height="220.88" fill="url(#p27)" stroke="#34344a" stroke-width="1.1"/><path d="M568.8,1497.58 V1515.66 M562.4,1497.58 H575.2 M562.4,1515.66 H575.2" stroke="#505050" stroke-width="1.2" fill="none"/><text transform="translate(568.8,1494.38) scale(1,1.06)" font-family='"Liberation Serif", serif' font-size="20.3" text-anchor="middle">c</text><rect x="597.5" y="1419.02" width="57.4" height="308.48" fill="url(#p28)" stroke="#34344a" stroke-width="1.1"/><path d="M626.2,1414 V1424.04 M619.8,1414 H632.6 M619.8,1424.04 H632.6" stroke="#505050" stroke-width="1.2" fill="none"/><text transform="translate(626.2,1410.8) scale(1,1.06)" font-family='"Liberation Serif", serif' font-size="20.3" text-anchor="middle">b</text><rect x="89" y="1225.5" width="590.4" height="502" fill="none" stroke="#666666" stroke-width="1.2"/><rect x="101.9" y="1235.4" width="43" height="19.8" fill="url(#p29)" stroke="#34344a" stroke-width="1.1"/><rect x="101.9" y="1259.9" width="43" height="19.8" fill="url(#p30)" stroke="#34344a" stroke-width="1.1"/><text transform="translate(150.6,1252.4) scale(1,1.05)" font-family='"Liberation Serif", serif' font-size="19.5">Dopamine 0 µM</text><text transform="translate(150.6,1276.3) scale(1,1.05)" font-family='"Liberation Serif", serif' font-size="19.5">Dopamine 150 µM</text><text transform="translate(642,1262.8) scale(1,1.15)" font-family='"Liberation Serif", serif' font-size="27.5" font-weight="bold">C</text><text transform="translate(384,1806.9) scale(1,1.11)" font-family='"Liberation Serif", serif' font-size="25.9" font-weight="bold" text-anchor="middle">Storage days</text><text transform="translate(24.2,1475.6) rotate(-90) scale(1,1.06)" font-family='"Liberation Serif", serif' font-size="25.8" font-weight="bold" text-anchor="middle"><tspan font-style="italic">GABA-T</tspan> gene expression</text></g>
<g><line x1="75.7" y1="2360.7" x2="89" y2="2360.7" stroke="#5e5e5e" stroke-width="1.2"/><g transform="translate(55.09,2366.27) scale(1,1.04)"><text x="0" y="0" font-family='"Liberation Sans", sans-serif' font-size="18.9">0</text></g><line x1="82.5" y1="2335.56" x2="89" y2="2335.56" stroke="#5e5e5e" stroke-width="1.2"/><line x1="75.7" y1="2310.43" x2="89" y2="2310.43" stroke="#5e5e5e" stroke-width="1.2"/><g transform="translate(55.09,2316) scale(1,1.04)"><text x="0" y="0" font-family='"Liberation Sans", sans-serif' font-size="18.9">2</text></g><line x1="82.5" y1="2285.3" x2="89" y2="2285.3" stroke="#5e5e5e" stroke-width="1.2"/><line x1="75.7" y1="2260.16" x2="89" y2="2260.16" stroke="#5e5e5e" stroke-width="1.2"/><g transform="translate(55.09,2265.73) scale(1,1.04)"><text x="0" y="0" font-family='"Liberation Sans", sans-serif' font-size="18.9">4</text></g><line x1="82.5" y1="2235.02" x2="89" y2="2235.02" stroke="#5e5e5e" stroke-width="1.2"/><line x1="75.7" y1="2209.89" x2="89" y2="2209.89" stroke="#5e5e5e" stroke-width="1.2"/><g transform="translate(55.09,2215.46) scale(1,1.04)"><text x="0" y="0" font-family='"Liberation Sans", sans-serif' font-size="18.9">6</text></g><line x1="82.5" y1="2184.76" x2="89" y2="2184.76" stroke="#5e5e5e" stroke-width="1.2"/><line x1="75.7" y1="2159.62" x2="89" y2="2159.62" stroke="#5e5e5e" stroke-width="1.2"/><g transform="translate(55.09,2165.19) scale(1,1.04)"><text x="0" y="0" font-family='"Liberation Sans", sans-serif' font-size="18.9">8</text></g><line x1="82.5" y1="2134.48" x2="89" y2="2134.48" stroke="#5e5e5e" stroke-width="1.2"/><line x1="75.7" y1="2109.35" x2="89" y2="2109.35" stroke="#5e5e5e" stroke-width="1.2"/><g transform="translate(44.58,2114.92) scale(1,1.04)"><text x="0" y="0" font-family='"Liberation Sans", sans-serif' font-size="18.9"> 0</text><path d="M763,0 L583,0 L583,1147 Q500,1067 390,1003 Q290,945 223,921 L223,1095 Q330,1145 430,1222 Q540,1310 607,1409 L763,1409 Z" transform="translate(0,0) scale(0.00923,-0.00923)"/></g><line x1="82.5" y1="2084.22" x2="89" y2="2084.22" stroke="#5e5e5e" stroke-width="1.2"/><line x1="75.7" y1="2059.08" x2="89" y2="2059.08" stroke="#5e5e5e" stroke-width="1.2"/><g transform="translate(44.58,2064.65) scale(1,1.04)"><text x="0" y="0" font-family='"Liberation Sans", sans-serif' font-size="18.9"> 2</text><path d="M763,0 L583,0 L583,1147 Q500,1067 390,1003 Q290,945 223,921 L223,1095 Q330,1145 430,1222 Q540,1310 607,1409 L763,1409 Z" transform="translate(0,0) scale(0.00923,-0.00923)"/></g><line x1="82.5" y1="2033.94" x2="89" y2="2033.94" stroke="#5e5e5e" stroke-width="1.2"/><line x1="75.7" y1="2008.81" x2="89" y2="2008.81" stroke="#5e5e5e" stroke-width="1.2"/><g transform="translate(44.58,2014.38) scale(1,1.04)"><text x="0" y="0" font-family='"Liberation Sans", sans-serif' font-size="18.9"> 4</text><path d="M763,0 L583,0 L583,1147 Q500,1067 390,1003 Q290,945 223,921 L223,1095 Q330,1145 430,1222 Q540,1310 607,1409 L763,1409 Z" transform="translate(0,0) scale(0.00923,-0.00923)"/></g><line x1="82.5" y1="1983.67" x2="89" y2="1983.67" stroke="#5e5e5e" stroke-width="1.2"/><line x1="75.7" y1="1958.54" x2="89" y2="1958.54" stroke="#5e5e5e" stroke-width="1.2"/><g transform="translate(44.58,1964.11) scale(1,1.04)"><text x="0" y="0" font-family='"Liberation Sans", sans-serif' font-size="18.9"> 6</text><path d="M763,0 L583,0 L583,1147 Q500,1067 390,1003 Q290,945 223,921 L223,1095 Q330,1145 430,1222 Q540,1310 607,1409 L763,1409 Z" transform="translate(0,0) scale(0.00923,-0.00923)"/></g><line x1="82.5" y1="1933.4" x2="89" y2="1933.4" stroke="#5e5e5e" stroke-width="1.2"/><line x1="75.7" y1="1908.27" x2="89" y2="1908.27" stroke="#5e5e5e" stroke-width="1.2"/><g transform="translate(44.58,1913.84) scale(1,1.04)"><text x="0" y="0" font-family='"Liberation Sans", sans-serif' font-size="18.9"> 8</text><path d="M763,0 L583,0 L583,1147 Q500,1067 390,1003 Q290,945 223,921 L223,1095 Q330,1145 430,1222 Q540,1310 607,1409 L763,1409 Z" transform="translate(0,0) scale(0.00923,-0.00923)"/></g><line x1="82.5" y1="1883.13" x2="89" y2="1883.13" stroke="#5e5e5e" stroke-width="1.2"/><line x1="75.7" y1="1858" x2="89" y2="1858" stroke="#5e5e5e" stroke-width="1.2"/><g transform="translate(44.58,1863.57) scale(1,1.04)"><text x="0" y="0" font-family='"Liberation Sans", sans-serif' font-size="18.9">20</text></g><line x1="170.6" y1="2360.7" x2="170.6" y2="2373" stroke="#5e5e5e" stroke-width="1.2"/><g transform="translate(165.26,2397.8) scale(1,1.03)"><text x="0" y="0" font-family='"Liberation Sans", sans-serif' font-size="19.2">0</text></g><line x1="312.9" y1="2360.7" x2="312.9" y2="2373" stroke="#5e5e5e" stroke-width="1.2"/><g transform="translate(307.56,2397.8) scale(1,1.03)"><text x="0" y="0" font-family='"Liberation Sans", sans-serif' font-size="19.2">7</text></g><line x1="455.2" y1="2360.7" x2="455.2" y2="2373" stroke="#5e5e5e" stroke-width="1.2"/><g transform="translate(444.52,2397.8) scale(1,1.03)"><text x="0" y="0" font-family='"Liberation Sans", sans-serif' font-size="19.2"> 4</text><path d="M763,0 L583,0 L583,1147 Q500,1067 390,1003 Q290,945 223,921 L223,1095 Q330,1145 430,1222 Q540,1310 607,1409 L763,1409 Z" transform="translate(0,0) scale(0.00937,-0.00937)"/></g><line x1="597.5" y1="2360.7" x2="597.5" y2="2373" stroke="#5e5e5e" stroke-width="1.2"/><g transform="translate(586.82,2397.8) scale(1,1.03)"><text x="0" y="0" font-family='"Liberation Sans", sans-serif' font-size="19.2">2 </text><path d="M763,0 L583,0 L583,1147 Q500,1067 390,1003 Q290,945 223,921 L223,1095 Q330,1145 430,1222 Q540,1310 607,1409 L763,1409 Z" transform="translate(10.68,0) scale(0.00937,-0.00937)"/></g><line x1="99.45" y1="2360.7" x2="99.45" y2="2366.7" stroke="#5e5e5e" stroke-width="1.2"/><line x1="241.75" y1="2360.7" x2="241.75" y2="2366.7" stroke="#5e5e5e" stroke-width="1.2"/><line x1="384.05" y1="2360.7" x2="384.05" y2="2366.7" stroke="#5e5e5e" stroke-width="1.2"/><line x1="526.35" y1="2360.7" x2="526.35" y2="2366.7" stroke="#5e5e5e" stroke-width="1.2"/><line x1="668.65" y1="2360.7" x2="668.65" y2="2366.7" stroke="#5e5e5e" stroke-width="1.2"/><rect x="113.2" y="2234.52" width="57.4" height="126.18" fill="url(#p31)" stroke="#34344a" stroke-width="1.1"/><rect x="170.6" y="2234.52" width="57.4" height="126.18" fill="url(#p32)" stroke="#34344a" stroke-width="1.1"/><rect x="255.5" y="2174.95" width="57.4" height="185.75" fill="url(#p33)" stroke="#34344a" stroke-width="1.1"/><path d="M284.2,2169.67 V2180.23 M277.8,2169.67 H290.6 M277.8,2180.23 H290.6" stroke="#505050" stroke-width="1.2" fill="none"/><text transform="translate(284.2,2166.47) scale(1,1.06)" font-family='"Liberation Serif", serif' font-size="20.3" text-anchor="middle">f</text><rect x="312.9" y="2117.64" width="57.4" height="243.06" fill="url(#p34)" stroke="#34344a" stroke-width="1.1"/><path d="M341.6,2111.11 V2124.18 M335.2,2111.11 H348 M335.2,2124.18 H348" stroke="#505050" stroke-width="1.2" fill="none"/><text transform="translate(341.6,2107.91) scale(1,1.06)" font-family='"Liberation Serif", serif' font-size="20.3" text-anchor="middle">e</text><rect x="397.8" y="2075.67" width="57.4" height="285.03" fill="url(#p35)" stroke="#34344a" stroke-width="1.1"/><path d="M426.5,2065.87 V2085.47 M420.1,2065.87 H432.9 M420.1,2085.47 H432.9" stroke="#505050" stroke-width="1.2" fill="none"/><text transform="translate(426.5,2062.67) scale(1,1.06)" font-family='"Liberation Serif", serif' font-size="20.3" text-anchor="middle">d</text><rect x="455.2" y="1911.79" width="57.4" height="448.91" fill="url(#p36)" stroke="#34344a" stroke-width="1.1"/><path d="M483.9,1902.99 V1920.59 M477.5,1902.99 H490.3 M477.5,1920.59 H490.3" stroke="#505050" stroke-width="1.2" fill="none"/><text transform="translate(483.9,1899.79) scale(1,1.06)" font-family='"Liberation Serif", serif' font-size="20.3" text-anchor="middle">a</text><rect x="540.1" y="2048.52" width="57.4" height="312.18" fill="url(#p37)" stroke="#34344a" stroke-width="1.1"/><path d="M568.8,2040.73 V2056.32 M562.4,2040.73 H575.2 M562.4,2056.32 H575.2" stroke="#505050" stroke-width="1.2" fill="none"/><text transform="translate(568.8,2037.53) scale(1,1.06)" font-family='"Liberation Serif", serif' font-size="20.3" text-anchor="middle">c</text><rect x="597.5" y="1988.95" width="57.4" height="371.75" fill="url(#p38)" stroke="#34344a" stroke-width="1.1"/><path d="M626.2,1983.93 V1993.98 M619.8,1983.93 H632.6 M619.8,1993.98 H632.6" stroke="#505050" stroke-width="1.2" fill="none"/><text transform="translate(626.2,1980.73) scale(1,1.06)" font-family='"Liberation Serif", serif' font-size="20.3" text-anchor="middle">b</text><rect x="89" y="1858" width="590.4" height="502.7" fill="none" stroke="#666666" stroke-width="1.2"/><rect x="101.9" y="1868" width="43" height="20.3" fill="url(#p39)" stroke="#34344a" stroke-width="1.1"/><rect x="101.9" y="1892.6" width="43" height="20.3" fill="url(#p40)" stroke="#34344a" stroke-width="1.1"/><text transform="translate(150.6,1885.1) scale(1,1.05)" font-family='"Liberation Serif", serif' font-size="19.5">Dopamine 0 µM</text><text transform="translate(150.6,1909) scale(1,1.05)" font-family='"Liberation Serif", serif' font-size="19.5">Dopamine 150 µM</text><text transform="translate(642.3,1895.1) scale(1,1.07)" font-family='"Liberation Serif", serif' font-size="26" font-weight="bold">D</text><text transform="translate(384,2439.6) scale(1,1.11)" font-family='"Liberation Serif", serif' font-size="25.9" font-weight="bold" text-anchor="middle">Storage days</text><text transform="translate(25.3,2109.2) rotate(-90) scale(1,1.06)" font-family='"Liberation Serif", serif' font-size="26" font-weight="bold" text-anchor="middle">GABA-T activity (mkat kg<tspan font-size="17.16" dy="-10.30">-1</tspan><tspan dy="10.30">)</tspan></text></g></svg>
</body></html>
